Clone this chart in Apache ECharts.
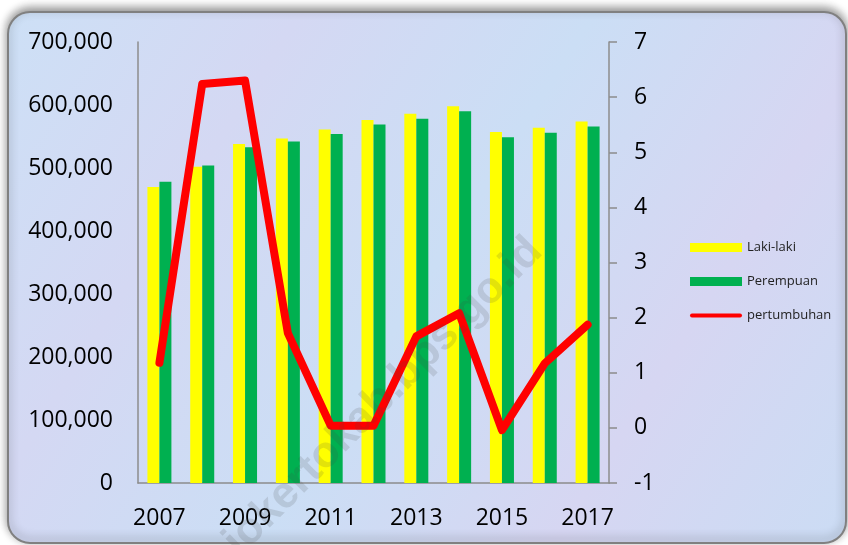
<!DOCTYPE html>
<html>
<head>
<meta charset="utf-8">
<script src="https://cdn.jsdelivr.net/npm/echarts@6/dist/echarts.min.js"></script>
<style>
  html, body { margin: 0; padding: 0; background: #ffffff; }
  #chart { width: 848px; height: 545px; }
</style>
</head>
<body>
<div id="chart"></div>
<script>
// tahun
var years = ["2007", "2008", "2009", "2010", "2011", "2012", "2013", "2014", "2015", "2016", "2017"];
// jumlah penduduk
var lakiLaki = [470000, 502000, 538000, 547000, 561000, 576000, 586000, 598000, 557000, 564000, 574000];
var perempuan = [478000, 504000, 533000, 542000, 554000, 569000, 578000, 590000, 549000, 556000, 566000];
// pertumbuhan (%)
var pertumbuhan = [1.18, 6.24, 6.3, 1.72, 0.04, 0.04, 1.66, 2.08, -0.04, 1.17, 1.87];
// skala sumbu
var leftTicks = { min: 0, max: 700000, interval: 100000 };
var rightTicks = { min: -1, max: 7, interval: 1 };

var chart = echarts.init(document.getElementById("chart"));
var axisGray = "#8c8c8c";
var labelFont = "'Open Sans', 'Noto Sans', sans-serif";

chart.setOption({
  animation: false,
  graphic: [
    {
      type: "rect",
      z: -10,
      shape: { x: 8, y: 12, width: 838, height: 531, r: 22 },
      style: {
        fill: new echarts.graphic.LinearGradient(0, 0, 1, 1, [
          { offset: 0, color: "#cde0f6" },
          { offset: 0.25, color: "#d4d8f3" },
          { offset: 0.5, color: "#cbdef5" },
          { offset: 0.75, color: "#d6d6f2" },
          { offset: 1, color: "#cbdcf4" },
        ]),
        stroke: "#808080",
        lineWidth: 2,
        shadowColor: "rgba(0,0,0,0.45)",
        shadowBlur: 10,
        shadowOffsetY: -3,
      },
    },
    {
      // watermark
      type: "text",
      z: 100,
      x: 360,
      y: 420,
      rotation: Math.PI / 4,
      style: {
        text: "mojokertokab.bps.go.id",
        font: "bold 44px 'Liberation Sans', sans-serif",
        fill: "rgba(70,70,70,0.15)",
        align: "center",
        verticalAlign: "middle",
      },
    },
  ],
  grid: {
    left: 138,
    right: 239,
    top: 42,
    bottom: 62,
  },
  legend: {
    orient: "vertical",
    left: 685,
    top: 236,
    itemWidth: 52,
    itemHeight: 9,
    itemGap: 21,
    textStyle: { fontSize: 13, color: "#222", fontFamily: labelFont },
    data: [
      { name: "Laki-laki", icon: "rect" },
      { name: "Perempuan", icon: "rect" },
      { name: "pertumbuhan", icon: "path://M2,0 L50,0 A2,2 0 0 1 50,4 L2,4 A2,2 0 0 1 2,0 Z" },
    ],
  },
  xAxis: {
    type: "category",
    data: years,
    axisLine: { lineStyle: { color: axisGray, width: 1.5 } },
    axisTick: { show: false },
    axisLabel: {
      interval: 1,
      margin: 24,
      fontSize: 23,
      color: "#000",
      fontFamily: labelFont,
    },
  },
  yAxis: [
    {
      type: "value",
      min: leftTicks.min,
      max: leftTicks.max,
      interval: leftTicks.interval,
      axisLine: { show: true, lineStyle: { color: axisGray, width: 1.5 } },
      axisTick: { show: false },
      splitLine: { show: false },
      axisLabel: {
        margin: 25,
        fontSize: 23,
        color: "#000",
        fontFamily: labelFont,
        formatter: function (v) {
          return v.toString().replace(/\B(?=(\d{3})+(?!\d))/g, ",");
        },
      },
    },
    {
      type: "value",
      position: "right",
      min: rightTicks.min,
      max: rightTicks.max,
      interval: rightTicks.interval,
      axisLine: { show: true, lineStyle: { color: axisGray, width: 1.5 } },
      axisTick: { show: true, length: 8, lineStyle: { color: axisGray, width: 1.5 } },
      splitLine: { show: false },
      axisLabel: {
        margin: 25,
        fontSize: 23,
        color: "#000",
        fontFamily: labelFont,
      },
    },
  ],
  series: [
    {
      name: "Laki-laki",
      type: "bar",
      barWidth: 12,
      barGap: "0%",
      itemStyle: { color: "#ffff00" },
      data: lakiLaki,
    },
    {
      name: "Perempuan",
      type: "bar",
      barWidth: 12,
      itemStyle: { color: "#00b050" },
      data: perempuan,
    },
    {
      name: "pertumbuhan",
      type: "line",
      yAxisIndex: 1,
      symbol: "none",
      itemStyle: { color: "#ff0000" },
      lineStyle: { color: "#ff0000", width: 8, cap: "round", join: "round" },
      data: pertumbuhan,
    },
  ],
});
</script>
</body>
</html>
